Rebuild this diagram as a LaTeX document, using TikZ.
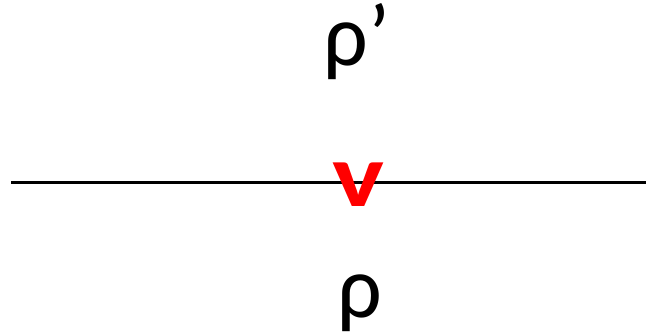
\documentclass[tikz,border=0pt]{standalone}
\usepackage{fontspec}
\setmainfont{Carlito}
\begin{document}
\begin{tikzpicture}[x=1pt,y=-1pt,
  lbl/.style={inner sep=0pt,anchor=base,font=\fontsize{88}{90}\selectfont},
  redmark/.style={lbl,text=red,font=\fontsize{90}{92}\selectfont\bfseries,xscale=1.22}]
\useasboundingbox (0,0) rectangle (646,335);
\coordinate (L) at (11,182.5);
\coordinate (R) at (646,182.5);
\draw[line width=2.3pt] (L) -- (R);
\node[lbl] (top) at (357,65) {ρ’};
\node[redmark] (v) at (358,206) {v};
\node[lbl] (bot) at (360,317) {ρ};
\end{tikzpicture}
\end{document}
